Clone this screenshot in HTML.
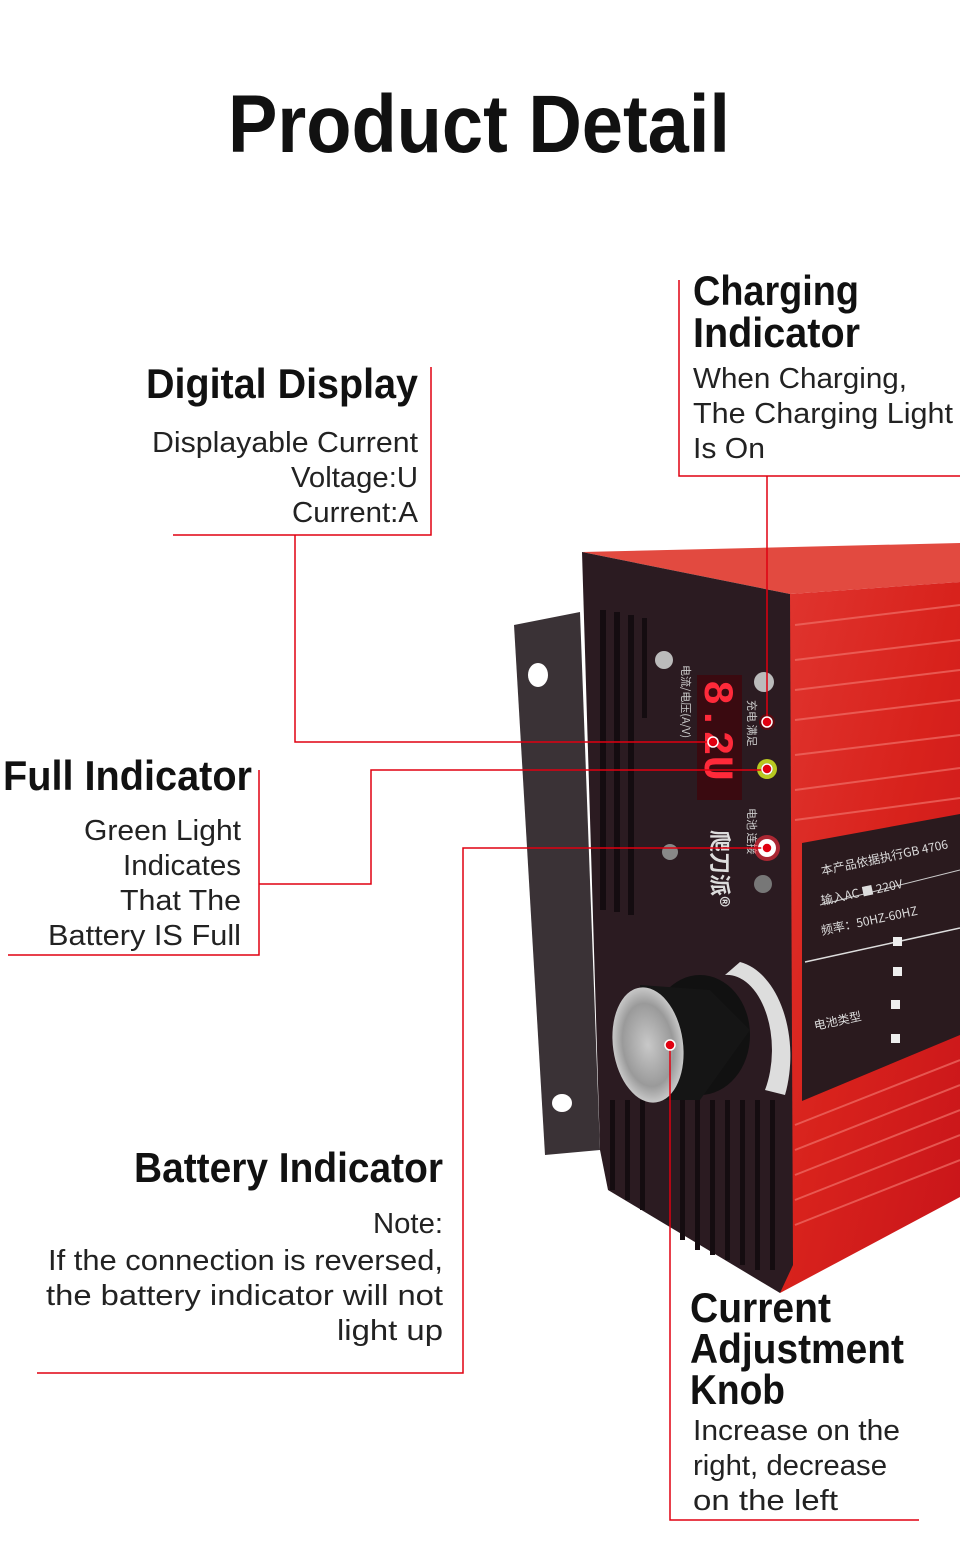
<!DOCTYPE html>
<html><head><meta charset="utf-8"><style>
html,body{margin:0;padding:0;background:#fff;}
svg{display:block;}
</style></head><body>
<svg width="960" height="1551" viewBox="0 0 960 1551" xmlns="http://www.w3.org/2000/svg" font-family="Liberation Sans, sans-serif">
<defs>
<linearGradient id="red" x1="0" y1="0" x2="1" y2="1">
<stop offset="0" stop-color="#e0352f"/><stop offset="0.5" stop-color="#d8221c"/><stop offset="1" stop-color="#c8141a"/>
</linearGradient>
<radialGradient id="knob" cx="0.5" cy="0.5" r="0.6">
<stop offset="0" stop-color="#c8c8c8"/><stop offset="0.6" stop-color="#9a9a9a"/><stop offset="1" stop-color="#e8e8e8"/>
</radialGradient>
</defs>
<rect width="960" height="1551" fill="#fff"/>

<!-- device -->
<polygon points="514,625 580,612 600,1150 545,1155" fill="#3a3236"/>
<ellipse cx="538" cy="675" rx="10" ry="12" fill="#fff"/>
<ellipse cx="562" cy="1103" rx="10" ry="9" fill="#fff"/>
<polygon points="582,552 960,543 960,582 790,594" fill="#e24a40"/>
<polygon points="790,594 960,582 960,1197 780,1293" fill="url(#red)"/>
<g stroke="#f07068" stroke-width="2" opacity="0.7">
<line x1="795" y1="625" x2="960" y2="605"/><line x1="795" y1="660" x2="960" y2="640"/>
<line x1="795" y1="690" x2="960" y2="670"/><line x1="795" y1="720" x2="960" y2="700"/>
<line x1="795" y1="755" x2="960" y2="735"/><line x1="795" y1="790" x2="960" y2="768"/>
<line x1="795" y1="820" x2="960" y2="798"/>
<line x1="795" y1="1125" x2="960" y2="1060"/><line x1="795" y1="1150" x2="960" y2="1085"/>
<line x1="795" y1="1175" x2="960" y2="1110"/><line x1="795" y1="1200" x2="960" y2="1135"/>
<line x1="795" y1="1225" x2="960" y2="1160"/>
</g>
<polygon points="802,843 960,814 960,1035 802,1101" fill="#2a1a1e"/>
<line x1="805" y1="962" x2="960" y2="928" stroke="#ddd" stroke-width="1.5"/>
<line x1="820" y1="905" x2="960" y2="870" stroke="#ccc" stroke-width="1"/>
<g fill="#ddd" font-family="Noto Sans CJK SC, sans-serif" font-size="12">
<text x="822" y="875" transform="rotate(-12 822 875)">本产品依据执行GB 4706</text>
<text x="822" y="905" transform="rotate(-12 822 905)">输入AC ■ 220V</text>
<text x="822" y="935" transform="rotate(-12 822 935)">频率：50HZ-60HZ</text>
<text x="815" y="1030" transform="rotate(-12 815 1030)">电池类型</text>
</g>
<g fill="#eee"><rect x="893" y="937" width="9" height="9"/><rect x="893" y="967" width="9" height="9"/><rect x="891" y="1000" width="9" height="9"/><rect x="891" y="1034" width="9" height="9"/></g>
<polygon points="582,552 790,594 793,1265 780,1293 608,1190 600,1150" fill="#2b1b21"/>
<g fill="#140c10">
<rect x="600" y="610" width="6" height="300"/><rect x="614" y="612" width="6" height="300"/><rect x="628" y="615" width="6" height="300"/><rect x="642" y="618" width="5" height="100"/>
<rect x="610" y="1100" width="5" height="90"/><rect x="625" y="1100" width="5" height="100"/><rect x="640" y="1100" width="5" height="110"/>
<rect x="680" y="1100" width="5" height="140"/><rect x="695" y="1100" width="5" height="150"/><rect x="710" y="1100" width="5" height="155"/><rect x="725" y="1100" width="5" height="160"/><rect x="740" y="1100" width="5" height="165"/><rect x="755" y="1100" width="5" height="170"/><rect x="770" y="1100" width="5" height="170"/>
</g>
<g fill="#bbb"><circle cx="664" cy="660" r="9"/><circle cx="764" cy="682" r="10"/><circle cx="670" cy="852" r="8" fill="#888"/><circle cx="763" cy="884" r="9" fill="#777"/></g>
<rect x="697" y="675" width="45" height="125" fill="#3a0a10"/>
<text x="0" y="0" transform="translate(705,680) rotate(90)" font-size="42" font-weight="bold" fill="#ff2a3a" font-family="Liberation Mono, monospace">8.2U</text>
<g fill="#ccc" font-family="Noto Sans CJK SC, sans-serif" font-size="11">
<text transform="translate(682,665) rotate(90)">电流/电压(A/V)</text>
<text transform="translate(748,700) rotate(90)">充电 满足</text>
<text transform="translate(748,808) rotate(90)">电池 连接</text>
</g>
<text transform="translate(712,830) rotate(90)" font-family="Noto Sans CJK SC, sans-serif" font-size="22" font-weight="bold" fill="#ddd">爬刀派®</text>
<circle cx="767" cy="722" r="8" fill="#5a0a10"/>
<circle cx="767" cy="769" r="10" fill="#b8c820"/><circle cx="767" cy="769" r="6" fill="#6a8a10"/>
<circle cx="767" cy="848" r="13" fill="#ff3040" opacity="0.6"/><circle cx="767" cy="848" r="9" fill="#fff"/>
<path d="M740,962 A60,95 0 0 1 785,1095 L765,1090 A45,75 0 0 0 725,975 Z" fill="#ddd"/>
<ellipse cx="700" cy="1035" rx="50" ry="60" fill="#111"/>
<polygon points="640,985 710,990 750,1030 700,1100 650,1100" fill="#151515"/>
<ellipse cx="648" cy="1045" rx="35" ry="58" fill="url(#knob)" transform="rotate(-8 648 1045)"/>

<g stroke="#e00010" stroke-width="1.5" fill="none">
<polyline points="431,367 431,535 173,535"/>
<polyline points="295,535 295,742 713,742"/>
<polyline points="679,280 679,476 960,476"/>
<polyline points="767,476 767,722"/>
<polyline points="259,770 259,955 8,955"/>
<polyline points="259,884 371,884 371,770 767,770"/>
<polyline points="37,1373 463,1373 463,848 767,848"/>
<polyline points="670,1045 670,1520 919,1520"/>
</g>
<g fill="#e00010" stroke="#fff" stroke-width="1.5">
<circle cx="767" cy="722" r="5"/><circle cx="713" cy="742" r="5"/><circle cx="767" cy="769" r="5"/><circle cx="767" cy="848" r="5"/><circle cx="670" cy="1045" r="5"/>
</g>

<text x="228" y="152" font-size="82" font-weight="bold" fill="#111" textLength="502" lengthAdjust="spacingAndGlyphs">Product Detail</text>

<g font-weight="bold" fill="#111" font-size="42">
<text x="146" y="398" textLength="272" lengthAdjust="spacingAndGlyphs">Digital Display</text>
<text x="693" y="305" textLength="166" lengthAdjust="spacingAndGlyphs">Charging</text>
<text x="693" y="347" textLength="167" lengthAdjust="spacingAndGlyphs">Indicator</text>
<text x="3" y="790" textLength="249" lengthAdjust="spacingAndGlyphs">Full  Indicator</text>
<text x="134" y="1182" textLength="309" lengthAdjust="spacingAndGlyphs">Battery Indicator</text>
<text x="690" y="1322" textLength="141" lengthAdjust="spacingAndGlyphs">Current</text>
<text x="690" y="1363" textLength="214" lengthAdjust="spacingAndGlyphs">Adjustment</text>
<text x="690" y="1404" textLength="95" lengthAdjust="spacingAndGlyphs">Knob</text>
</g>
<g fill="#222" font-size="29">
<text x="152" y="452" textLength="266" lengthAdjust="spacingAndGlyphs">Displayable Current</text>
<text x="291" y="487" textLength="127" lengthAdjust="spacingAndGlyphs">Voltage:U</text>
<text x="292" y="522" textLength="126" lengthAdjust="spacingAndGlyphs">Current:A</text>
<text x="693" y="388" textLength="214" lengthAdjust="spacingAndGlyphs">When Charging,</text>
<text x="693" y="423" textLength="260" lengthAdjust="spacingAndGlyphs">The Charging Light</text>
<text x="693" y="458" textLength="72" lengthAdjust="spacingAndGlyphs">Is On</text>
<text x="84" y="840" textLength="157" lengthAdjust="spacingAndGlyphs">Green Light</text>
<text x="123" y="875" textLength="118" lengthAdjust="spacingAndGlyphs">Indicates</text>
<text x="120" y="910" textLength="121" lengthAdjust="spacingAndGlyphs">That The</text>
<text x="48" y="945" textLength="193" lengthAdjust="spacingAndGlyphs">Battery IS Full</text>
<text x="373" y="1233" textLength="70" lengthAdjust="spacingAndGlyphs">Note:</text>
<text x="48" y="1270" textLength="395" lengthAdjust="spacingAndGlyphs">If the connection is reversed,</text>
<text x="46" y="1305" textLength="397" lengthAdjust="spacingAndGlyphs">the battery indicator will not</text>
<text x="337" y="1340" textLength="106" lengthAdjust="spacingAndGlyphs">light up</text>
<text x="693" y="1440" textLength="207" lengthAdjust="spacingAndGlyphs">Increase on the</text>
<text x="693" y="1475" textLength="194" lengthAdjust="spacingAndGlyphs">right, decrease</text>
<text x="693" y="1510" textLength="145" lengthAdjust="spacingAndGlyphs">on the left</text>
</g>
</svg>
</body></html>
